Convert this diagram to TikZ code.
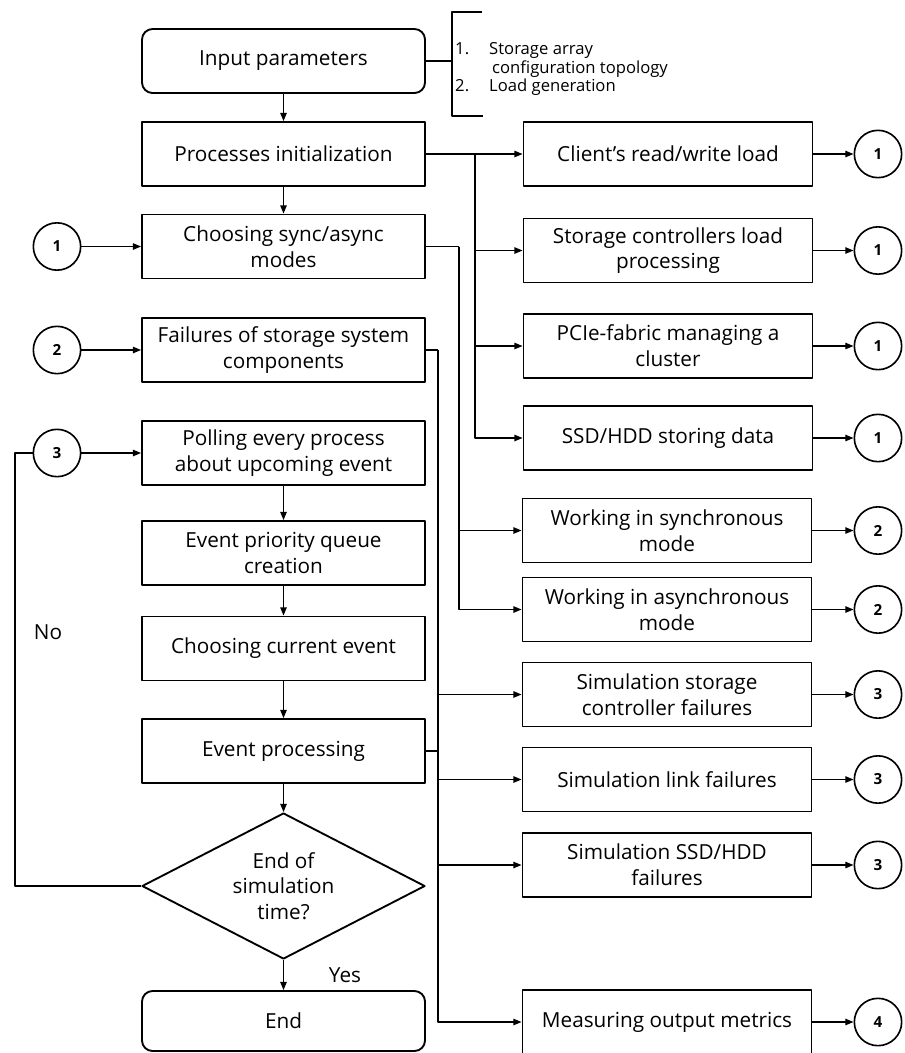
\documentclass[tikz,border=0pt]{standalone}
\usepackage{fontspec}
\setmainfont{Open Sans}
\usetikzlibrary{arrows.meta,shapes.geometric}

\begin{document}
\begin{tikzpicture}[x=0.03cm,y=-0.03cm,>={Triangle[length=7pt,width=5.5pt]},
    line join=round,
    box/.style={draw,line width=1.6pt,minimum width=8.49cm,minimum height=1.92cm,
      align=center,inner sep=2pt,font=\fontsize{17.7}{22}\selectfont},
    termbox/.style={box,rounded corners=9pt},
    sidebox/.style={box,minimum width=8.67cm},
    ask/.style={draw,line width=1.6pt,diamond,aspect=2,inner sep=0pt,
      minimum width=8.49cm,minimum height=4.38cm,align=center,
      font=\fontsize{17.7}{22}\selectfont},
    mark circ/.style={draw,circle,line width=1.4pt,minimum size=1.42cm,inner sep=0pt,
      font=\fontsize{13}{13}\selectfont\bfseries},
    link/.style={line width=1.1pt},
    note/.style={anchor=base west,inner sep=0pt,font=\fontsize{14.2}{16}\selectfont}]
    \useasboundingbox (0,0) rectangle (905,1053);

    % Left column.
    \node[termbox] (inp) at (283.5,61) {Input parameters};
    \node[box] (init) at (283.5,154) {Processes initialization};
    \node[box] (modes) at (283.5,246.5) {Choosing sync/async\\modes};
    \node[box] (fail) at (283.5,350) {Failures of storage system\\components};
    \node[box] (poll) at (283.5,453) {Polling every process\\about upcoming event};
    \node[box] (queue) at (283.5,553) {Event priority queue\\creation};
    \node[box] (cur) at (283.5,648.5) {Choosing current event};
    \node[box] (proc) at (283.5,751) {Event processing};
    \node[ask] (dec) at (283.5,886) {End of\\simulation\\time?};
    \node[termbox,minimum height=1.8cm] (fin) at (283.5,1021) {End};

    \draw[->,link] (inp) -- (init);
    \draw[->,link] (init) -- (modes);
    \draw[->,link] (poll) -- (queue);
    \draw[->,link] (queue) -- (cur);
    \draw[->,link] (cur) -- (proc);
    \draw[->,link] (proc) -- (dec);
    \draw[->,link] (dec) -- (fin);
    \node[font=\fontsize{17.7}{22}\selectfont] (yes) at (345,975) {Yes};

    % Input list in a bracket.
    \coordinate (brk) at (452,61);
    \draw[link] (482,12) -- (452,12) -- (452,116) -- (483,116);
    \draw[link] (inp.east) -- (brk);
    \node[note] (n1) at (455,54) {1.};
    \node[note] (t1) at (489,54) {Storage array};
    \node[note] (t1b) at (492,73) {configuration topology};
    \node[note] (n2) at (455,91) {2.};
    \node[note] (t2) at (489,91) {Load generation};

    % Entry circles and the loop back.
    \node[mark circ] (c1) at (57,246.5) {1};
    \node[mark circ] (c2) at (57,350) {2};
    \node[mark circ] (c3) at (57,453) {3};
    \draw[->,link] (c1) -- (modes);
    \draw[->,link] (c2) -- (fail);
    \draw[->,link] (c3) -- (poll);
    \coordinate (back) at (15,453);
    \draw[link] (dec.west) -| (back) -- (c3);
    \node[font=\fontsize{17.7}{22}\selectfont] (no) at (48,632) {No};

    % Right column.
    \node[sidebox] (load) at (668,154) {Client’s read/write load};
    \node[sidebox] (ctrl) at (668,250.5) {Storage controllers load\\processing};
    \node[sidebox] (fabric) at (668,346) {PCIe-fabric managing a\\cluster};
    \node[sidebox] (disk) at (668,438) {SSD/HDD storing data};
    \node[sidebox] (sync) at (667,530.5) {Working in synchronous\\mode};
    \node[sidebox] (async) at (667,609.5) {Working in asynchronous\\mode};
    \node[sidebox] (sctrl) at (667,694.5) {Simulation storage\\controller failures};
    \node[sidebox] (slink) at (667,779.5) {Simulation link failures};
    \node[sidebox] (sdisk) at (667,865) {Simulation SSD/HDD\\failures};
    \node[sidebox] (metr) at (667,1022) {Measuring output metrics};

    % Buses from the left column.
    \coordinate (busA) at (475,154);
    \draw[->,link] (init) -- (load);
    \foreach \dst in {ctrl,fabric,disk}
      \draw[->,link] (busA) |- (\dst.west);
    \coordinate (busB) at (459,246.5);
    \draw[link] (modes.east) -- (busB);
    \foreach \dst in {sync,async}
      \draw[->,link] (busB) |- (\dst.west);
    \coordinate (busC) at (438,350);
    \draw[link] (fail.east) -- (busC);
    \foreach \dst in {sctrl,slink,sdisk,metr}
      \draw[->,link] (busC) |- (\dst.west);
    \draw[link] (proc.east) -- (proc.east -| busC);

    % Exit circles.
    \foreach \src/\lbl [count=\i] in {load/1,ctrl/1,fabric/1,disk/1,sync/2,async/2,
        sctrl/3,slink/3,sdisk/3,metr/4} {
      \node[mark circ] (r\i) at (878,0 |- \src) {\lbl};
      \draw[->,link] (\src) -- (r\i);
    }
  \end{tikzpicture}
\end{document}
